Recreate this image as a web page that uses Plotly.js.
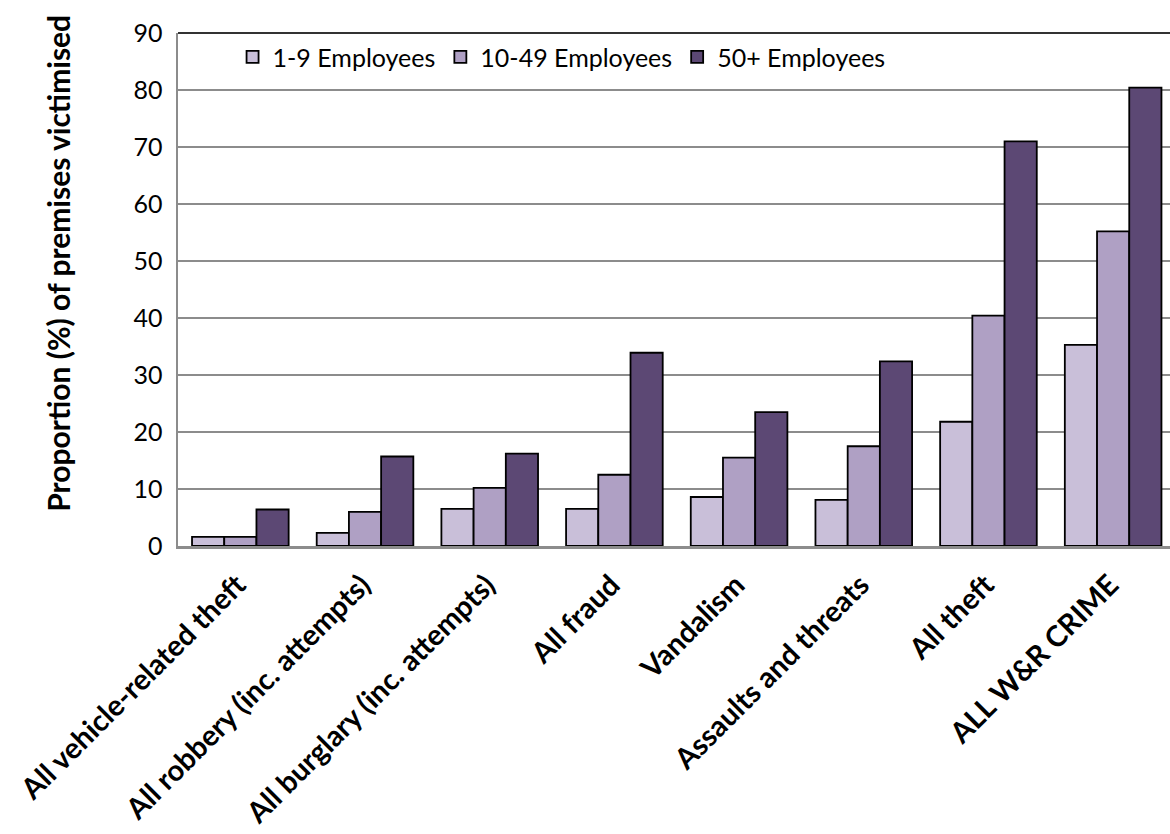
<!DOCTYPE html>
<html>
<head>
<meta charset="utf-8">
<script src="https://cdn.plot.ly/plotly-3.0.1.min.js"></script>
<style>html,body{margin:0;padding:0;background:#fff;}#chart{width:1170px;height:834px;}</style>
</head>
<body>
<div id="chart"></div>
<script>
const categories = ["All vehicle-related theft", "All robbery (inc. attempts)", "All burglary (inc. attempts)", "All fraud", "Vandalism", "Assaults and threats", "All theft", "ALL W&R CRIME"];
const seriesNames = ["1-9 Employees", "10-49 Employees", "50+ Employees"];
const small = [1.6, 2.3, 6.5, 6.5, 8.6, 8.1, 21.8, 35.3];
const medium = [1.6, 6.0, 10.2, 12.5, 15.5, 17.5, 40.4, 55.2];
const large = [6.4, 15.7, 16.2, 33.9, 23.5, 32.4, 71.0, 80.4];
const yTicks = [0, 10, 20, 30, 40, 50, 60, 70, 80, 90];
const yTitle = "Proportion (%) of premises victimised";
const colors = ["#c9bfd9", "#afa0c4", "#5c4874"];

const font = "Lato, 'Open Sans', sans-serif";
const values = [small, medium, large];
const traces = values.map((v, i) => ({
  type: "bar",
  name: seriesNames[i],
  x: categories,
  y: v,
  marker: {color: colors[i], line: {color: "#000", width: 1.8}},
  hoverinfo: "skip"
}));

const layout = {
  width: 1170, height: 834,
  margin: {l: 178, r: 0, t: 33, b: 288, pad: 0},
  paper_bgcolor: "#fff", plot_bgcolor: "#fff",
  barmode: "group", bargap: 0.225, bargroupgap: 0,
  font: {family: font, color: "#000", size: 25},
  showlegend: true,
  legend: {orientation: "h", x: 0.055, xanchor: "left", y: 0.998, yanchor: "top",
    font: {family: font, size: 25, color: "#000"}, bgcolor: "rgba(0,0,0,0)",
    traceorder: "normal", itemwidth: 30},
  xaxis: {type: "category", range: [-0.5, 7.456], tickangle: -45, automargin: false,
    tickfont: {family: font, size: 29, color: "#000", weight: "bold"},
    ticklabelstandoff: 8, ticklabelshift: -3,
    showline: true, linecolor: "#8c8c8c", linewidth: 2.5, ticks: "", showgrid: false, fixedrange: true},
  yaxis: {range: [0, 90], tickvals: yTicks, ticktext: yTicks.map(String), automargin: false,
    tickfont: {family: font, size: 25, color: "#000"}, ticklabelstandoff: 8,
    showline: true, linecolor: "#8c8c8c", linewidth: 2.5, ticks: "",
    showgrid: true, gridcolor: "#8c8c8c", gridwidth: 1.6, zeroline: false},
  annotations: [{text: yTitle, xref: "paper", yref: "paper", x: -0.121, y: 0.552,
    xanchor: "center", yanchor: "middle", textangle: -90, showarrow: false,
    font: {family: font, size: 30, color: "#000", weight: "bold"}}],
  shapes: [{type: "line", xref: "paper", yref: "paper", x0: 0, x1: 1, y0: 1, y1: 1,
    line: {color: "#333", width: 2}}]
};

Plotly.newPlot("chart", traces, layout, {displayModeBar: false, staticPlot: true});
</script>
</body>
</html>
